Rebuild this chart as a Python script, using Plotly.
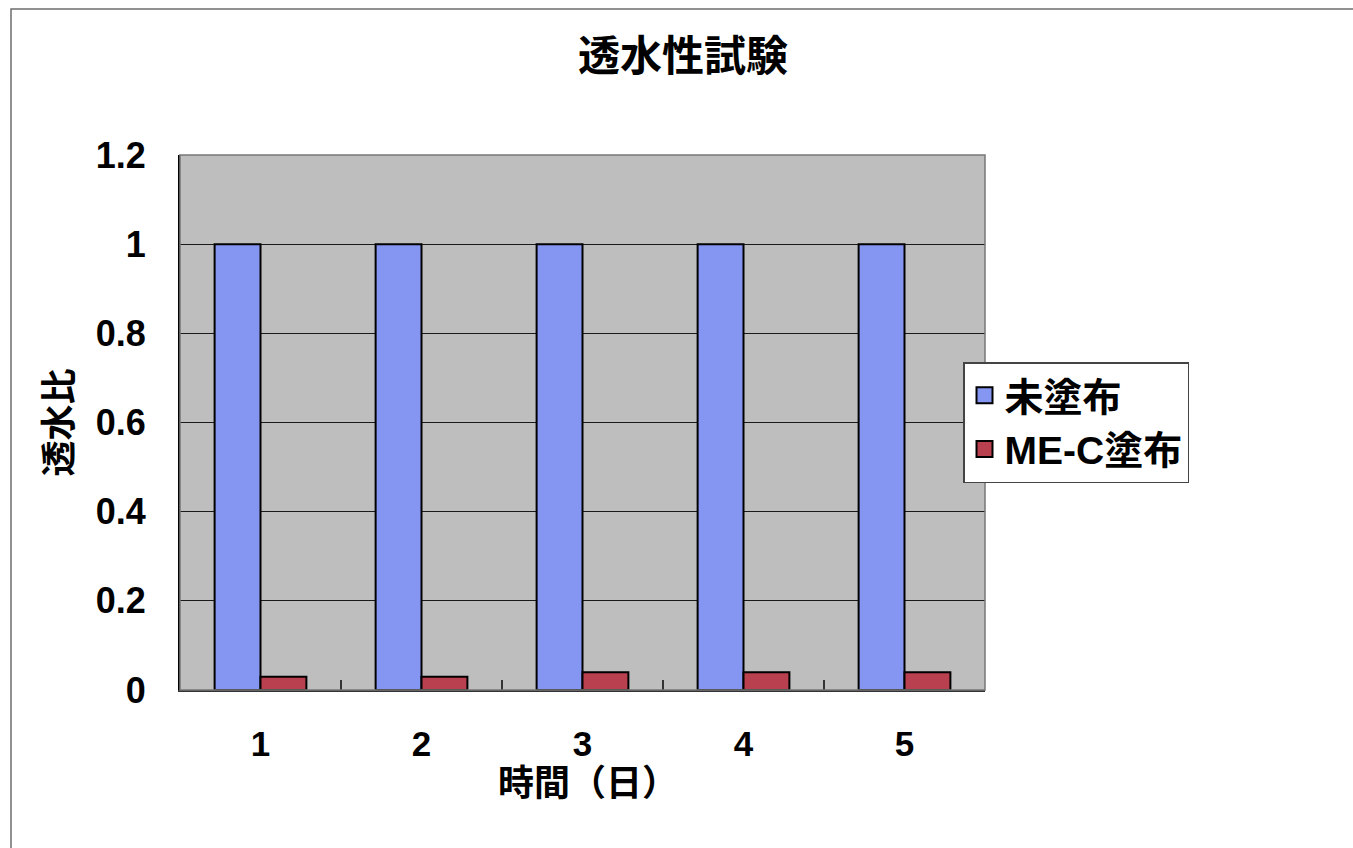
import plotly.graph_objects as go

# 透水性試験: 経過日数ごとの透水比
days = ["1", "2", "3", "4", "5"]
uncoated = [1.0, 1.0, 1.0, 1.0, 1.0]
mec_coated = [0.03, 0.03, 0.04, 0.04, 0.04]
series_names = ["未塗布", "ME-C塗布"]
y_ticks = [0, 0.2, 0.4, 0.6, 0.8, 1.0, 1.2]
x_title = "時間（日）"

BLUE = "#8595F2"
RED = "#B8404F"
FONT = "Liberation Sans, Noto Sans CJK JP, sans-serif"

W, H = 1353, 848
L, R, T, B = 180, 368, 155, 158
pw, ph = W - L - R, H - T - B

fig = go.Figure()
for vals, color in [(uncoated, BLUE), (mec_coated, RED)]:
    fig.add_trace(go.Bar(
        x=days, y=vals, marker=dict(color=color, line=dict(color="black", width=2)),
        showlegend=False,
    ))

# legend entries with larger square swatches
for name, color in zip(series_names, [BLUE, RED]):
    fig.add_trace(go.Scatter(
        x=[None], y=[None], mode="markers", name=name,
        marker=dict(symbol="square", size=23, color=color, line=dict(color="black", width=2)),
    ))

# outer chart frame
fig.add_shape(type="rect", xref="paper", yref="paper",
              x0=(11 - L) / pw, x1=(W + 40 - L) / pw,
              y0=(H - B - 9) / ph, y1=-(B + 40) / ph,
              line=dict(color="#6e6e6e", width=1.5), fillcolor="rgba(0,0,0,0)", layer="below")
# plot area border
fig.add_shape(type="rect", xref="paper", yref="paper", x0=0, x1=1, y0=0, y1=1,
              line=dict(color="#777777", width=1.5), fillcolor="rgba(0,0,0,0)")

# category axis title, placed close under the tick labels
fig.add_annotation(text=x_title, xref="paper", yref="paper",
                   x=(588 - L) / pw, y=-(783 - (H - B)) / ph,
                   xanchor="center", yanchor="middle", showarrow=False,
                   font=dict(size=36, family=FONT, weight="bold"))

fig.update_layout(
    width=W, height=H, autosize=False,
    margin=dict(l=L, r=R, t=T, b=B, pad=0),
    paper_bgcolor="white", plot_bgcolor="#BEBEBE",
    barmode="group", bargap=0.43, bargroupgap=0,
    font=dict(family=FONT, size=36, color="black", weight="bold"),
    title=dict(text="透水性試験", x=683 / W, xref="container", xanchor="center",
               y=1 - 56 / H, yref="container", yanchor="middle",
               font=dict(size=42, family=FONT, weight="bold")),
    legend=dict(x=(963 - L) / pw, y=(H - B - 362) / ph, xanchor="left", yanchor="top",
                bgcolor="white", bordercolor="#444444", borderwidth=1.5,
                font=dict(size=39, family=FONT, weight="bold"),
                itemwidth=30),
    showlegend=True,
)
fig.update_xaxes(
    type="category", showline=True, linecolor="#333333", linewidth=1.5,
    ticks="inside", tickson="boundaries", ticklen=10, tickcolor="#333333", tickwidth=1.5,
    ticklabelstandoff=22, tickfont=dict(size=35, weight="bold"),
    showgrid=False, zeroline=False,
)
fig.update_yaxes(
    range=[0, 1.2], tickvals=y_ticks, ticktext=["0", "0.2", "0.4", "0.6", "0.8", "1", "1.2"],
    showline=True, linecolor="black", linewidth=2,
    showgrid=True, gridcolor="#1a1a1a", gridwidth=1, zeroline=False,
    ticks="", ticklabelstandoff=25, tickfont=dict(size=36, weight="bold"),
    title=dict(text="透水比", standoff=12, font=dict(size=36, weight="bold")),
)

fig.write_html("out.html")
